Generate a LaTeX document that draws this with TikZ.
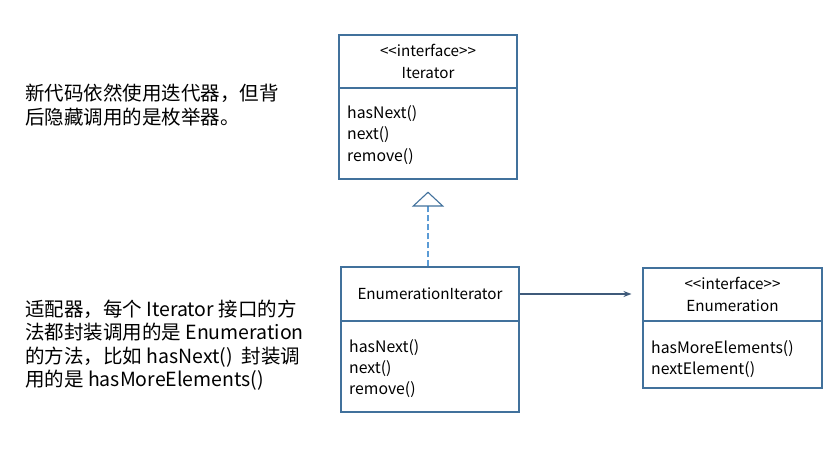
\documentclass[tikz,border=0pt]{standalone}
\usepackage{fontspec}
\setmainfont{Noto Sans CJK SC}
\usetikzlibrary{arrows.meta}
\definecolor{boxc}{HTML}{41719C}
\definecolor{dashc}{HTML}{5B9BD5}
\definecolor{arrc}{HTML}{3F5A7A}
\tikzset{
  hdr/.style={draw=boxc, line width=1.1pt, minimum width=#1, inner sep=0pt, align=center,
    font=\fontsize{15.2}{22.5}\selectfont},
  bdy/.style={draw=boxc, line width=1.1pt, minimum width=#1, inner sep=0pt},
  meth/.style={anchor=west, inner sep=0pt, align=left, font=\fontsize{15.8}{21.3}\selectfont},
  note/.style={anchor=west, inner sep=0pt, align=left, font=\fontsize{19.5}{23.5}\selectfont},
}
\newcommand{\ifc}{{<}{<}interface{>}{>}}
\begin{document}
\begin{tikzpicture}[x=1pt,y=-1pt]
\useasboundingbox[fill=white] (0,0) rectangle (837,470);
% Iterator
\node[hdr=178pt, minimum height=53pt] (iterh) at (428,61.5) {\ifc\\Iterator};
\node[bdy=178pt, minimum height=91pt] (iterb) at (428,133.5) {};
\node[meth] (iterm) at (347,135) {hasNext()\\next()\\remove()};
% EnumerationIterator
\node[hdr=178pt, minimum height=54pt] (enith) at (430,294) {EnumerationIterator};
\node[bdy=178pt, minimum height=91pt] (enitb) at (430,366.5) {};
\node[meth] (enitm) at (349,368.5) {hasNext()\\next()\\remove()};
% Enumeration
\node[hdr=179pt, minimum height=53pt] (enumh) at (732.5,294.5) {\ifc\\Enumeration};
\node[bdy=179pt, minimum height=67pt] (enumb) at (732.5,354.5) {};
\node[meth] (enumm) at (651,359) {hasMoreElements()\\nextElement()};
% connectors
\draw[dashc, line width=1.1pt, dash pattern=on 6pt off 3pt,
  -{Triangle[open, length=15pt, width=32pt, color=boxc, fill=white, line width=1.1pt]},
  shorten >=12pt] (enith.north -| iterb.south) -- (iterb.south);
\draw[arrc, line width=1.1pt, -{Stealth[length=8pt, width=6pt]}, shorten >=11pt]
  (enith.east) -- (enith.east -| enumh.west);
% notes
\node[note] (note1) at (25,105) {新代码依然使用迭代器，但背\\后隐藏调用的是枚举器。};
\node[note] (note2) at (25,345) {适配器，每个 Iterator 接口的方\\法都封装调用的是 Enumeration\\的方法，比如 hasNext()~~封装调\\用的是 hasMoreElements()};
\end{tikzpicture}
\end{document}
